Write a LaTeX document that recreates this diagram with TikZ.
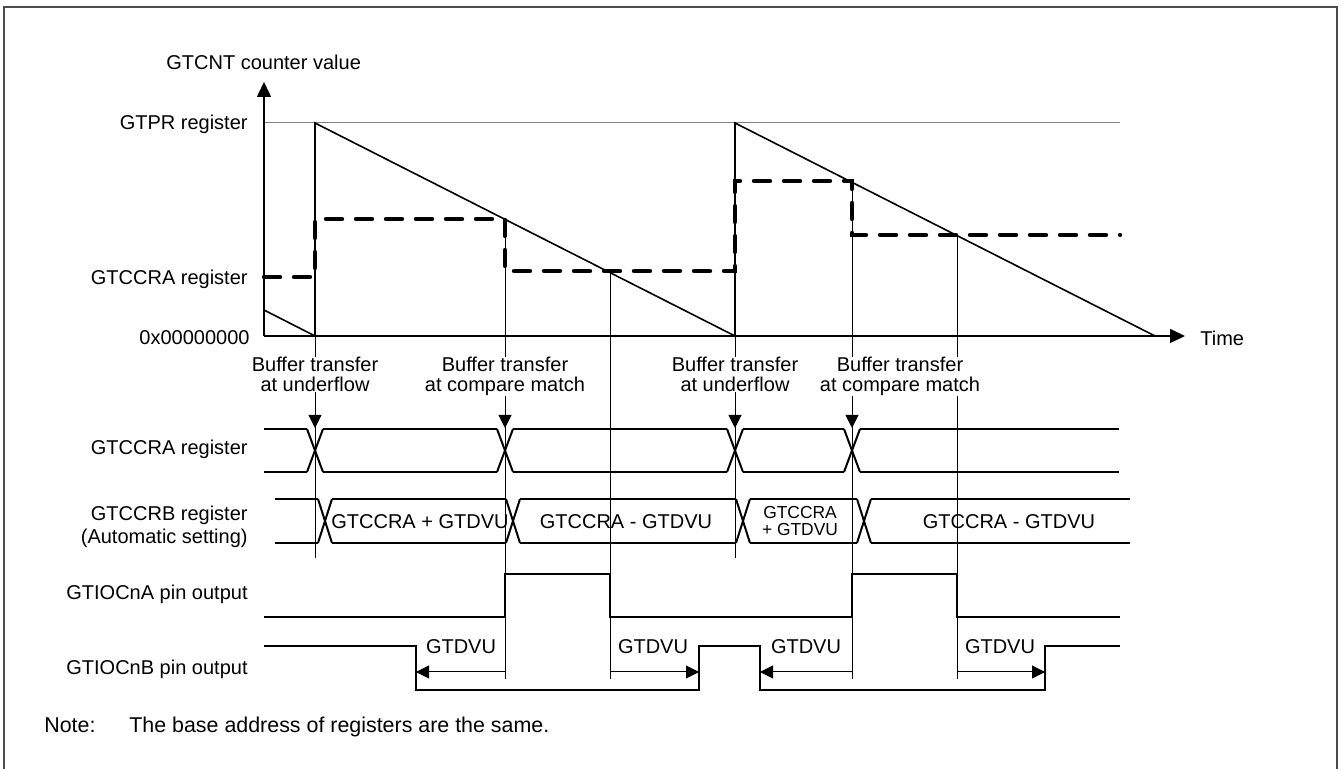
\documentclass[tikz,border=0pt]{standalone}
\usepackage{fontspec}
\setmainfont{Liberation Sans}
\usetikzlibrary{arrows.meta}
\tikzset{timing/.style={x=0.5pt,y=-0.5pt,font=\fontsize{10}{11.5}\selectfont,
    >={Triangle[length=6.5pt,width=6.5pt]}},
  sig/.style={line width=1pt},
  ramp/.style={line width=0.8pt},
  guide/.style={line width=0.5pt},
  cmp/.style={line width=2.2pt,dash pattern=on 8pt off 7pt,line cap=round},
  lbl/.style={inner sep=0pt,align=center},
  rowlbl/.style={inner sep=0pt,anchor=base east}}

\begin{document}
\begin{tikzpicture}[timing]
    \def\yp{123}\def\yz{336}
    \useasboundingbox (0,0) rectangle (1341,769);
    \draw[black!70,line width=0.8pt] (4,769) -- (4,7) -- (1337,7) -- (1337,769);
    \node[anchor=base west,inner sep=0pt] (ylab) at (166,70) {GTCNT counter value};
    \node[rowlbl] (gtpr) at (248,130) {GTPR register};
    \node[rowlbl] (ccra) at (248,285) {GTCCRA register};
    \node[rowlbl] (zero) at (250,345) {0x00000000};
    \node[anchor=base west,inner sep=0pt] (time) at (1200,346) {Time};
    \draw[gray,line width=0.5pt] (264,\yp) -- (1120,\yp);
    \draw[-{Triangle[length=7.5pt,width=7pt]},ramp] (264,\yz) -- (264,82);
    \draw[-{Triangle[length=7.5pt,width=7pt]},ramp] (264,\yz) -- (1185,\yz);
    \foreach \x/\a/\b in {315/336/558,735/336/558,505/219/679,610/272/679,852/182/679,957/235/679}
      \draw[guide] (\x,\a) -- (\x,\b);
    \draw[ramp] (264,310) -- (315,\yz) -- (315,\yp) -- (735,\yz) -- (735,\yp) -- (1155,\yz);
    \draw[cmp] (264,277) -| (315,219) -| (505,271) -| (735,181) -| (852,235) -- (1120,235);
    \foreach \x/\c/\n/\t in {315/315/uf1/underflow,505/505/cm1/compare match,735/735/uf2/underflow,852/900/cm2/compare match}{
      \node[lbl,fill=white,anchor=north,font=\fontsize{10}{10}\selectfont] (\n) at (\c,357) {Buffer transfer\\at \t};
      \draw[->,guide] (\x,398) -- (\x,428);
    }
    \node[rowlbl] (rowa) at (248,455) {GTCCRA register};
    \foreach \t in {315,505,735,852}
      \draw[sig] (\t-8,429) -- (\t+8,472) (\t-8,472) -- (\t+8,429);
    \foreach \a/\b in {264/307,323/497,513/727,743/844,860/1119}
      \draw[sig] (\a,429) -- (\b,429) (\a,472) -- (\b,472);
    \node[inner sep=0pt,anchor=north east,align=right] (rowb) at (248,506) {GTCCRB register\\(Automatic setting)};
    \foreach \t in {325,513,743,864}
      \draw[sig] (\t-7,499) -- (\t+7,543) (\t-7,543) -- (\t+7,499);
    \foreach \a/\b in {275/318,332/506,520/736,750/857,871/1130}
      \draw[sig] (\a,499) -- (\b,499) (\a,543) -- (\b,543);
    \node[lbl] (bus1) at (420,522) {GTCCRA + GTDVU};
    \node[lbl] (bus2) at (626,522) {GTCCRA - GTDVU};
    \node[lbl,font=\fontsize{8.7}{8.5}\selectfont] (bus3) at (800,521) {GTCCRA\\+ GTDVU};
    \node[lbl] (bus4) at (1009,522) {GTCCRA - GTDVU};
    \node[rowlbl] (pina) at (248,600) {GTIOCnA pin output};
    \draw[sig] (264,617) -- (505,617) -- (505,574) -- (610,574) -- (610,617) -- (852,617)
      -- (852,574) -- (957,574) -- (957,617) -- (1120,617);
    \node[rowlbl] (pinb) at (248,675) {GTIOCnB pin output};
    \draw[sig] (264,646) -- (416,646) -- (416,690) -- (699,690) -- (699,646) -- (760,646)
      -- (760,690) -- (1045,690) -- (1045,646) -- (1120,646);
    \foreach \a/\b/\c in {505/416/461,610/699/653,852/760/806,957/1045/1000}{
      \draw[->,guide] (\a,672) -- (\b,672);
      \node[lbl] (dv\a) at (\c,647) {GTDVU};
    }
    \node[anchor=base west,inner sep=0pt,font=\fontsize{10.7}{12}\selectfont] (note) at (44,733) {Note:};
    \node[anchor=base west,inner sep=0pt,font=\fontsize{10.7}{12}\selectfont] (notetxt) at (129,733) {The base address of registers are the same.};
\end{tikzpicture}
\end{document}
